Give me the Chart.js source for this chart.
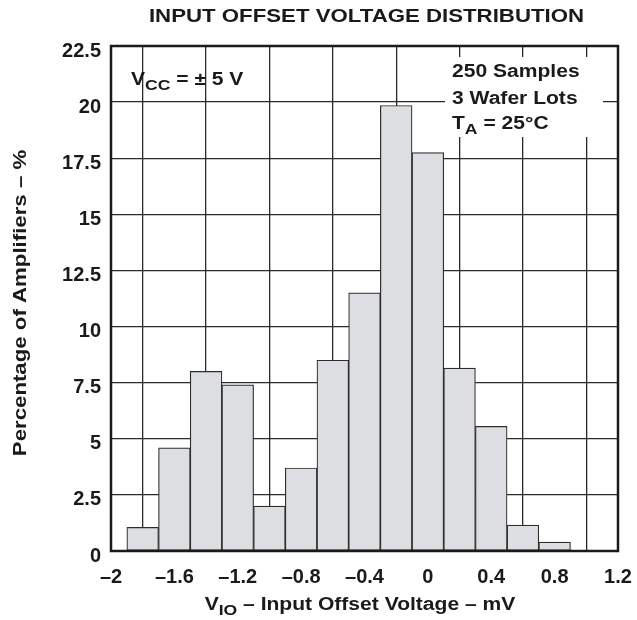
<!DOCTYPE html>
<html>
<head>
<meta charset="utf-8">
<title>Input Offset Voltage Distribution</title>
<script src="https://cdn.jsdelivr.net/npm/chart.js@4.4.1/dist/chart.umd.min.js"></script>
<style>
  html, body { margin: 0; padding: 0; background: #fff; }
  #chart { display: block; }
</style>
</head>
<body>
<canvas id="chart" width="637" height="620"></canvas>
<script>
// Histogram data: bin centres (mV) and percentage of amplifiers per bin
const binCenters = [-1.8, -1.6, -1.4, -1.2, -1.0, -0.8, -0.6, -0.4, -0.2, 0, 0.2, 0.4, 0.6, 0.8];
const percentages = [1.05, 4.6, 8.0, 7.4, 2.0, 3.7, 8.5, 11.5, 19.85, 17.75, 8.15, 5.55, 1.15, 0.4];

// Tick values
const xTicks = [-2, -1.6, -1.2, -0.8, -0.4, 0, 0.4, 0.8, 1.2];
const yTicks = [0, 2.5, 5, 7.5, 10, 12.5, 15, 17.5, 20, 22.5];

const FONT = "'Liberation Sans', Arial, Helvetica, sans-serif";
const INK = '#1a1a1a';
const STRETCH = 1.17; // reference type is set a little wider than Arial

function fontOf(size) {
    return `bold ${size}px ${FONT}`;
}

// Draw a row of text runs (for subscripts), each [text, size, dy]
function drawRuns(ctx, runs, x, y, align) {
    const widths = runs.map(r => {
        ctx.font = fontOf(r[1]);
        return ctx.measureText(r[0]).width * STRETCH;
    });
    const total = widths.reduce((a, b) => a + b, 0);
    let cx = align === 'center' ? x - total / 2 : x;
    runs.forEach((r, i) => {
        ctx.save();
        ctx.translate(cx, y + r[2]);
        ctx.scale(STRETCH, 1);
        ctx.font = fontOf(r[1]);
        ctx.textAlign = 'left';
        ctx.textBaseline = 'alphabetic';
        ctx.fillText(r[0], 0, 0);
        ctx.restore();
        cx += widths[i];
    });
}

function dash(v) {
    const s = String(Math.round(v * 10) / 10);
    return v < 0 ? '\u2013' + s.slice(1) : s;
}

// Title, axis titles, notes and frame
const annotations = {
    id: 'annotations',
    afterDatasetsDraw(chart) {
        const { ctx, chartArea: a } = chart;
        ctx.save();

        // note block on the right, knocked out of the grid
        ctx.fillStyle = '#fff';
        ctx.fillRect(a.right - 173, a.top + 11, 158, 80);
        ctx.fillStyle = INK;
        const nx = a.right - 166;
        drawRuns(ctx, [['250 Samples', 18, 0]], nx, a.top + 31, 'left');
        drawRuns(ctx, [['3 Wafer Lots', 18, 0]], nx, a.top + 57.5, 'left');
        drawRuns(ctx, [['T', 18, 0], ['A', 15, 5], [' = 25\u00B0C', 18, 0]], nx, a.top + 82.5, 'left');

        // supply note on the left
        drawRuns(ctx, [['V', 18, 0], ['CC', 15, 5], [' = \u00B1 5 V', 18, 0]], a.left + 20, a.top + 39, 'left');

        // frame
        ctx.strokeStyle = INK;
        ctx.lineWidth = 2.5;
        ctx.strokeRect(a.left, a.top, a.right - a.left, a.bottom - a.top);

        // chart title
        drawRuns(ctx, [['INPUT OFFSET VOLTAGE DISTRIBUTION', 19, 0]], 366.5, 22, 'center');

        // x axis title
        drawRuns(ctx, [['V', 18, 0], ['IO', 15, 5], [' \u2013 Input Offset Voltage \u2013 mV', 18, 0]],
            360, a.bottom + 59, 'center');

        // y axis title (rotated)
        ctx.save();
        ctx.translate(26, 303);
        ctx.rotate(-Math.PI / 2);
        drawRuns(ctx, [['Percentage of Amplifiers \u2013 %', 19, 0]], 0, 0, 'center');
        ctx.restore();

        ctx.restore();
    }
};

const ctx = document.getElementById('chart').getContext('2d');

new Chart(ctx, {
    type: 'bar',
    data: {
        datasets: [{
            data: binCenters.map((x, i) => ({ x: x, y: percentages[i] })),
            backgroundColor: '#dddee1',
            borderColor: '#2e2e2e',
            borderWidth: 1.2,
            borderSkipped: false,
            barPercentage: 1,
            categoryPercentage: 1
        }]
    },
    options: {
        responsive: false,
        animation: false,
        devicePixelRatio: 1,
        layout: { padding: { top: 46, right: 19, left: 0, bottom: 0 } },
        plugins: {
            legend: { display: false },
            tooltip: { enabled: false },
            title: { display: false }
        },
        scales: {
            x: {
                type: 'linear',
                min: -2,
                max: 1.2,
                offset: false,
                grid: { color: '#2a2a2a', lineWidth: 1.3, drawTicks: false },
                border: { display: false },
                afterBuildTicks: s => { s.ticks = xTicks.map(v => ({ value: v })); },
                afterFit: s => {
                    s.height = 69;
                    s.paddingLeft = 0;
                    s.paddingRight = 0;
                },
                ticks: {
                    color: INK,
                    font: { family: FONT, size: 20, weight: 'bold' },
                    padding: 14,
                    maxRotation: 0,
                    autoSkip: false,
                    callback: v => dash(v)
                }
            },
            y: {
                min: 0,
                max: 22.5,
                grid: { color: '#2a2a2a', lineWidth: 1.3, drawTicks: false },
                border: { display: false },
                afterBuildTicks: s => { s.ticks = yTicks.map(v => ({ value: v })); },
                afterFit: s => {
                    s.width = 111;
                    s.paddingTop = 0;
                    s.paddingBottom = 0;
                },
                ticks: {
                    color: INK,
                    font: { family: FONT, size: 20, weight: 'bold' },
                    padding: 10,
                    labelOffset: 5,
                    autoSkip: false,
                    callback: v => String(v)
                }
            }
        }
    },
    plugins: [annotations]
});
</script>
</body>
</html>
